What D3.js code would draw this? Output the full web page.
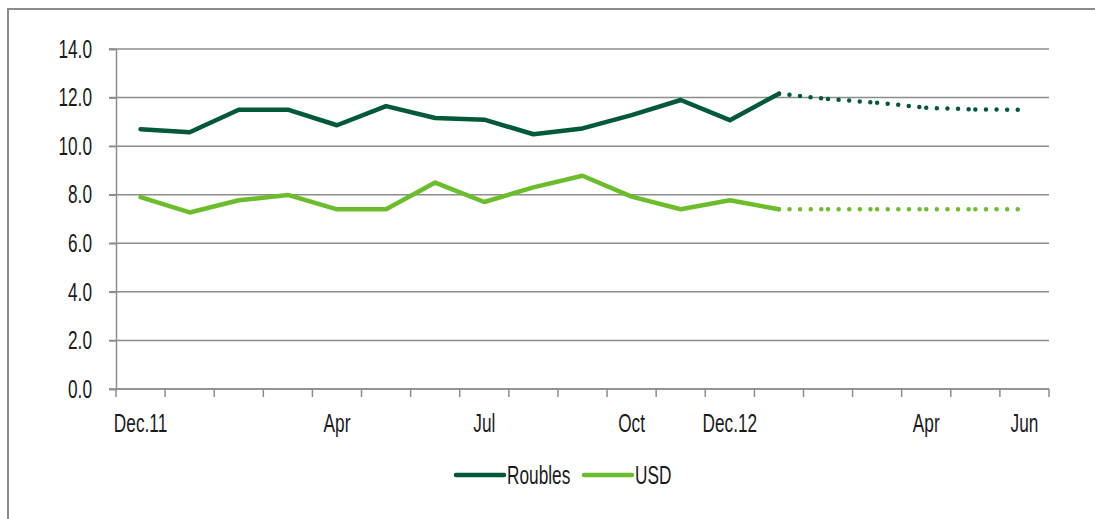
<!DOCTYPE html>
<html>
<head>
<meta charset="utf-8">
<script src="https://cdn.jsdelivr.net/npm/d3@7"></script>
<style>
  html, body { margin: 0; padding: 0; background: #fff; }
  svg { display: block; }
  text { font-family: "Liberation Sans", Arial, sans-serif; fill: #1a1a1a; }
</style>
</head>
<body>
<svg id="chart" width="1095" height="519"></svg>
<script>
// Data
var months = ['Dec.11','Jan','Feb','Mar','Apr','May','Jun','Jul','Aug','Sep','Oct','Nov',
              'Dec.12','Jan','Feb','Mar','Apr','May','Jun'];
var tickLabels = ['Dec.11','','','','Apr','','','Jul','','','Oct','','Dec.12','','','','Apr','','Jun'];
var yTicks = [0, 2, 4, 6, 8, 10, 12, 14];

var roublesActual   = [10.7, 10.57, 11.5, 11.5, 10.86, 11.65, 11.16, 11.09, 10.49, 10.73, 11.28, 11.9, 11.07, 12.16];
var roublesForecast = [12.16, 11.94, 11.79, 11.58, 11.51, 11.5];   // from Jan.13 onwards
var usdActual       = [7.9, 7.27, 7.77, 7.99, 7.4, 7.4, 8.5, 7.7, 8.3, 8.78, 7.92, 7.4, 7.77, 7.4];
var usdForecast     = [7.4, 7.4, 7.4, 7.4, 7.4, 7.4];
var forecastStart = 13;

var COLORS = { Roubles: '#005a37', USD: '#6cbd2c', grid: '#8c8c8c' };
var FS = 25, NARROW = 'scale(0.69,1)';   // condensed look of the original font

var svg = d3.select('#chart');
var m = { left: 116, right: 1049, top: 49, bottom: 389 };

// frame of the outer chart box (only left and top edges visible)
svg.append('path')
    .attr('d', 'M8,519 L8,9 L1095,9')
    .attr('fill', 'none').attr('stroke', COLORS.grid).attr('stroke-width', 2);

var x = d3.scaleBand().domain(d3.range(months.length)).range([m.left, m.right]).padding(0);
var y = d3.scaleLinear().domain([0, 14]).range([m.bottom, m.top]);
function cx(i) { return x(i) + x.bandwidth() / 2; }

// gridlines
svg.append('g').selectAll('line').data(yTicks).enter().append('line')
    .attr('x1', m.left - 7).attr('x2', m.right)
    .attr('y1', d => y(d)).attr('y2', d => y(d))
    .attr('stroke', COLORS.grid).attr('stroke-width', 1.5);

// y axis
var yAxis = svg.append('g').attr('transform', 'translate(' + m.left + ',0)')
    .call(d3.axisLeft(y).tickValues(yTicks).tickFormat(d3.format('.1f')).tickSize(7));
yAxis.select('.domain').attr('stroke', COLORS.grid).attr('stroke-width', 1.5);
yAxis.selectAll('.tick line').attr('stroke', COLORS.grid).attr('stroke-width', 1.5);
yAxis.selectAll('text')
    .attr('x', 0).attr('dy', null).attr('dominant-baseline', 'central')
    .attr('transform', 'translate(-24,0) ' + NARROW)
    .attr('font-size', FS).attr('fill', '#1a1a1a')
    .style('font-family', '"Liberation Sans", Arial, sans-serif');

// x axis: tick marks at category boundaries, labels centred in bands
var xg = svg.append('g');
xg.append('line').attr('x1', m.left).attr('x2', m.right).attr('y1', m.bottom).attr('y2', m.bottom)
    .attr('stroke', COLORS.grid).attr('stroke-width', 1.5);
var bounds = d3.range(months.length + 1).map(i => i < months.length ? x(i) : m.right);
xg.selectAll('line.tk').data(bounds).enter().append('line').attr('class', 'tk')
    .attr('x1', d => d).attr('x2', d => d).attr('y1', m.bottom).attr('y2', m.bottom + 8)
    .attr('stroke', COLORS.grid).attr('stroke-width', 1.5);
xg.selectAll('text').data(tickLabels).enter().append('text')
    .attr('transform', (d, i) => 'translate(' + cx(i) + ',' + (m.bottom + 35) + ') ' + NARROW)
    .attr('text-anchor', 'middle').attr('dominant-baseline', 'central')
    .attr('font-size', FS).text(d => d);

// lines
var line = d3.line().x(d => cx(d.i)).y(d => y(d.v));
function drawSolid(vals, color) {
    svg.append('path').datum(vals.map((v, i) => ({ i: i, v: v })))
        .attr('d', line).attr('fill', 'none').attr('stroke', color)
        .attr('stroke-width', 4.5).attr('stroke-linejoin', 'round').attr('stroke-linecap', 'round');
}
function drawDotted(vals, color) {
    // each segment drawn separately, like the original (dots double up at joints)
    for (var k = 0; k < vals.length - 1; k++) {
        var seg = [{ i: forecastStart + k, v: vals[k] }, { i: forecastStart + k + 1, v: vals[k + 1] }];
        svg.append('path').datum(seg).attr('d', line).attr('fill', 'none')
            .attr('stroke', color).attr('stroke-width', 4.5)
            .attr('stroke-linecap', 'round').attr('stroke-dasharray', '0 10.6')
            .attr('stroke-dashoffset', -10.6);
    }
}
drawSolid(roublesActual, COLORS.Roubles);
drawDotted(roublesForecast, COLORS.Roubles);
drawSolid(usdActual, COLORS.USD);
drawDotted(usdForecast, COLORS.USD);

// legend
var legend = [{ name: 'Roubles', x: 456 }, { name: 'USD', x: 584 }];
var lg = svg.append('g').selectAll('g').data(legend).enter().append('g')
    .attr('transform', d => 'translate(' + d.x + ',475)');
lg.append('line').attr('x1', 0).attr('x2', 48).attr('y1', 0).attr('y2', 0)
    .attr('stroke', d => COLORS[d.name]).attr('stroke-width', 4.5).attr('stroke-linecap', 'round');
lg.append('text').attr('transform', 'translate(51,1) ' + NARROW).attr('dominant-baseline', 'central')
    .attr('font-size', FS).text(d => d.name);
</script>
</body>
</html>
